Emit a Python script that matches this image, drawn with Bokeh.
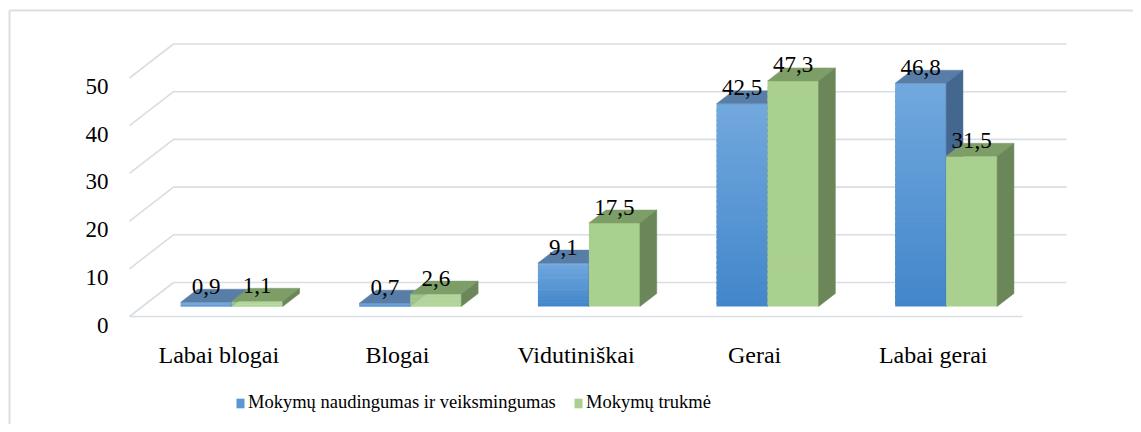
import numpy as np
from bokeh.plotting import figure
from bokeh.models import ColumnDataSource, Legend, LegendItem
from bokeh.embed import file_html
from bokeh.resources import INLINE
from bokeh.core.properties import value

# ---------------- data ----------------
categories = ["Labai blogai", "Blogai", "Vidutiniškai", "Gerai", "Labai gerai"]
series_names = ["Mokymų naudingumas ir veiksmingumas", "Mokymų trukmė"]
naudingumas = [0.9, 0.7, 9.1, 42.5, 46.8]
trukme = [1.1, 2.6, 17.5, 47.3, 31.5]
y_ticks = [0, 10, 20, 30, 40, 50]

# ---------------- layout constants ----------------
W, H = 1133, 424
SX = 178.6          # px per category
SY = 4.77           # px per value unit
X0_PX = 129         # local px of front-left floor corner
Y0_PX = 316         # local px (from top) of value 0 on front plane
x_start = -X0_PX / SX
x_end = x_start + W / SX
y_end = Y0_PX / SY
y_start = y_end - H / SY

DX = 44 / SX        # floor depth shift (x)
DY = 34 / SY        # floor depth shift (y)
D_FRONT, D_BACK = 0.294, 0.676
BAR_W = 51 / SX
NCAT = len(categories)

FONT = "Liberation Serif"
GRID = "#d9dde4"

p = figure(width=W, height=H, x_range=(x_start, x_end), y_range=(y_start, y_end),
           x_axis_type=None, y_axis_type=None, toolbar_location=None,
           output_backend="svg", min_border=0, outline_line_color=None)
p.xgrid.visible = False
p.ygrid.visible = False
p.background_fill_color = "white"
p.border_fill_color = "white"

# outer chart border (left and top visible)
p.line([x_start + 9 / SX] * 2, [y_start, y_end - 10 / SY], line_color=GRID, line_width=2)
p.line([x_start + 9 / SX, x_end], [y_end - 10 / SY] * 2, line_color=GRID, line_width=2)

# gridlines: left-wall diagonals and back-wall horizontals
gx, gy = [], []
for t in y_ticks:
    gx.append([0, DX, NCAT + DX])
    gy.append([t, t + DY, t + DY])
gx.append([0, NCAT])
gy.append([0, 0])
p.multi_line(gx, gy, line_color=GRID, line_width=1.6)

# tick labels
p.text(x=[-21 / SX] * len(y_ticks), y=[t - 8.5 / SY for t in y_ticks],
       text=[str(t) for t in y_ticks], text_font=value(FONT), text_font_size="23px",
       text_align="right", text_baseline="alphabetic", text_color="#000000")

# category labels
p.text(x=[i + 0.5 for i in range(NCAT)], y=[-38 / SY] * NCAT, text=categories,
       text_font=value(FONT), text_font_size="24px", text_align="center",
       text_baseline="alphabetic", text_color="#000000")

sh_x = D_FRONT * DX
sh_y = D_FRONT * DY
bdx = (D_BACK - D_FRONT) * DX
bdy = (D_BACK - D_FRONT) * DY


def lerp(c1, c2, t):
    return "#%02x%02x%02x" % tuple(int(round(a + (b - a) * t)) for a, b in zip(c1, c2))


styles = [
    dict(top_c=(114, 168, 222), bot_c=(66, 134, 202), top_face="#587da6", side="#44678f"),
    dict(top_c=(169, 208, 142), bot_c=(169, 208, 142), top_face="#7e9e68", side="#6b875a"),
]

N = 40
front_renderers = []
label_x, label_y, label_t = [], [], []
for s, vals in enumerate([naudingumas, trukme]):
    st = styles[s]
    L, R, T, B, C = [], [], [], [], []
    txs, tys, sxs, sys_ = [], [], [], []
    for i, v in enumerate(vals):
        xl = i + 0.5 - BAR_W + s * BAR_W + sh_x
        xr = xl + BAR_W
        yb = sh_y
        yt = v + sh_y
        for k in range(N):
            top_k = yt - (yt - yb) * k / N
            bot_k = yt - (yt - yb) * (k + 1) / N
            L.append(xl); R.append(xr)
            T.append(top_k); B.append(max(yb, bot_k - (yt - yb) / N * 0.6))
            C.append(lerp(st["top_c"], st["bot_c"], (k + 0.5) / N))
        txs.append([xl, xr, xr + bdx, xl + bdx])
        tys.append([yt, yt, yt + bdy, yt + bdy])
        sxs.append([xr, xr, xr + bdx, xr + bdx])
        sys_.append([yb, yt, yt + bdy, yb + bdy])
        label_x.append((xl + xr) / 2)
        label_y.append(v + D_BACK * DY + 3 / SY)
        label_t.append(f"{v:.1f}".replace(".", ","))
    r = p.quad(source=ColumnDataSource(dict(left=L, right=R, top=T, bottom=B, color=C)),
               left="left", right="right", top="top", bottom="bottom",
               fill_color="color", line_color=None)
    front_renderers.append(r)
    p.patches(txs, tys, fill_color=st["top_face"], line_color=st["top_face"], line_width=0.5)
    p.patches(sxs, sys_, fill_color=st["side"], line_color=st["side"], line_width=0.5)

# data labels
p.text(x=label_x, y=label_y, text=label_t, text_font=value(FONT), text_font_size="23px",
       text_align="center", text_baseline="alphabetic", text_color="#000000")

# legend (two separately placed items)
for name, r, lx in [(series_names[0], front_renderers[0], 235),
                    (series_names[1], front_renderers[1], 573)]:
    leg = Legend(items=[LegendItem(label=name, renderers=[r], index=N // 2)],
                 location=(lx, 11), orientation="horizontal",
                 glyph_width=10, glyph_height=12, label_standoff=3, padding=0, margin=0,
                 border_line_color=None, background_fill_alpha=0,
                 label_text_font=FONT, label_text_font_size="18.5px",
                 label_text_color="#000000")
    p.add_layout(leg)

open("out.html", "w").write(file_html(p, INLINE))
